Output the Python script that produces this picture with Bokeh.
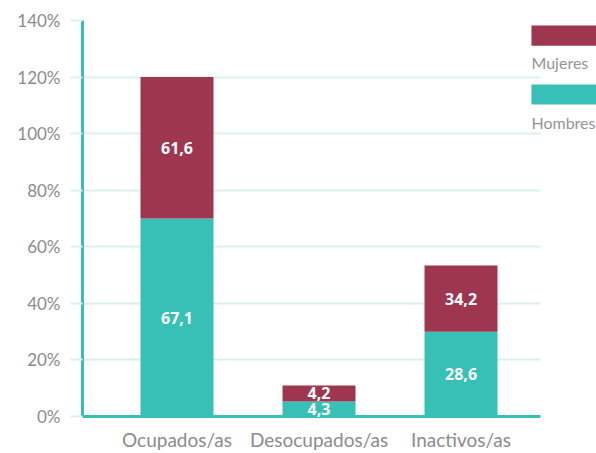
from bokeh.plotting import figure
from bokeh.models import ColumnDataSource, FixedTicker, PrintfTickFormatter, Range1d
from bokeh.core.properties import value
from bokeh.embed import file_html
from bokeh.resources import INLINE

categories = ["Ocupados/as", "Desocupados/as", "Inactivos/as"]
series = ["Hombres", "Mujeres"]
hombres = [70.0, 5.3, 30.0]
mujeres = [50.0, 5.7, 23.4]
hombres_lbl = ["67,1", "4,3", "28,6"]
mujeres_lbl = ["61,6", "4,2", "34,2"]
y_ticks = [0, 20, 40, 60, 80, 100, 120, 140]

TEAL = "#38bfb6"
RED = "#9e3650"
GRID = "#dcf0ee"
GRAY = "#8c8c8c"

xs = list(range(len(categories)))
src = ColumnDataSource(dict(
    x=xs, Hombres=hombres, Mujeres=mujeres,
    h_mid=[h / 2 for h in hombres],
    m_mid=[h + m / 2 for h, m in zip(hombres, mujeres)],
    h_lbl=hombres_lbl, m_lbl=mujeres_lbl,
))

X0, X1 = -0.6655, 2.954
p = figure(width=596, height=453, output_backend="svg", toolbar_location=None,
           x_range=Range1d(X0, X1), y_range=Range1d(0, 140),
           min_border_left=82, min_border_right=0, min_border_top=20, min_border_bottom=30)
p.outline_line_color = None
p.background_fill_color = "white"
p.border_fill_color = "white"

p.vbar_stack(series, x="x", width=0.514, color=[TEAL, RED], line_color=None, source=src)

r1 = p.text(x="x", y="h_mid", text="h_lbl", source=src, text_color="white",
            text_font=value("Open Sans"), text_font_style="bold", text_font_size="16px",
            text_align="center", text_baseline="middle")
r2 = p.text(x="x", y="m_mid", text="m_lbl", source=src, text_color="white",
            text_font=value("Open Sans"), text_font_style="bold", text_font_size="16px",
            text_align="center", text_baseline="middle")
r1.level = "overlay"
r2.level = "overlay"

# legend (swatches with labels beneath)
leg_x0, leg_x1 = 2.496, X1
p.quad(left=[leg_x0], right=[leg_x1], top=[138.2], bottom=[131.1], color=RED, line_color=None)
p.quad(left=[leg_x0], right=[leg_x1], top=[117.4], bottom=[110.3], color=TEAL, line_color=None)
p.text(x=[leg_x0, leg_x0], y=[125.0, 104.0], text=[series[1], series[0]], text_color="#959595",
       text_font=value("Lato"), text_font_size="16px", text_align="left", text_baseline="middle")

# grid
p.xgrid.visible = False
p.ygrid.ticker = FixedTicker(ticks=y_ticks)
p.ygrid.grid_line_color = GRID
p.ygrid.grid_line_width = 2
p.ygrid.cross_bounds = (X0, 2.56)

# y axis
ya = p.yaxis[0]
ya.ticker = FixedTicker(ticks=y_ticks)
ya.formatter = PrintfTickFormatter(format="%d%%")
ya.axis_line_color = TEAL
ya.axis_line_width = 3
ya.major_tick_line_color = GRID
ya.major_tick_line_width = 2
ya.minor_tick_line_color = None
ya.major_tick_out = 12
ya.major_tick_in = 0
ya.major_label_standoff = 10
ya.major_label_text_font = "Lato"
ya.major_label_text_font_size = "17px"
ya.major_label_text_color = GRAY

# x axis
xa = p.xaxis[0]
xa.ticker = FixedTicker(ticks=xs)
xa.major_label_overrides = {i: c for i, c in zip(xs, categories)}
xa.bounds = (X0, 2.56)
xa.axis_line_color = TEAL
xa.axis_line_width = 3
xa.major_tick_line_color = None
xa.minor_tick_line_color = None
xa.major_tick_out = 0
xa.major_label_standoff = 11
xa.major_label_text_font = "Lato"
xa.major_label_text_font_size = "19px"
xa.major_label_text_color = GRAY

open("out.html", "w").write(file_html(p, INLINE))
